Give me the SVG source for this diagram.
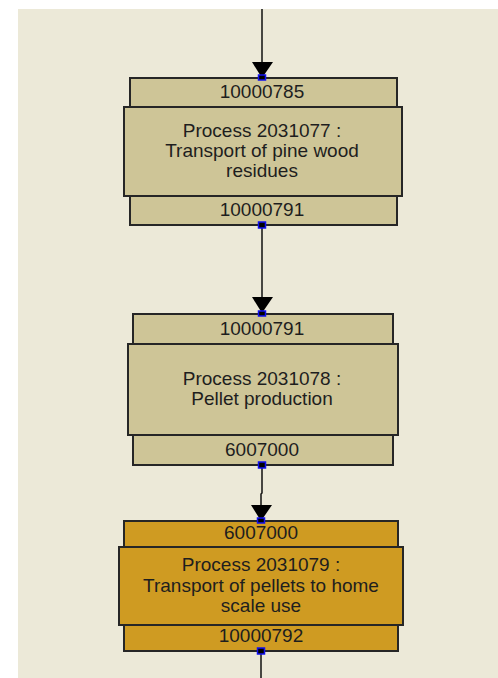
<svg xmlns="http://www.w3.org/2000/svg" width="498" height="678" viewBox="0 0 498 678">
<defs>
<style>
.bg{fill:#ECE9D8}
.n rect{stroke:#262626;stroke-width:2}
.khaki rect{fill:#CEC597}
.gold rect{fill:#CF9B22}
text{font-family:"Liberation Sans",Arial,sans-serif;font-size:19px;fill:#1E1E1E;text-anchor:middle}
.c line,.c polyline{stroke:#111;stroke-width:1.5;fill:none}
.arr{fill:#000}
.n rect.port{fill:#000;stroke:#1010F0;stroke-width:1.5}
</style>
</defs>
<rect x="0" y="0" width="498" height="678" fill="#fff"/>
<rect class="bg" x="18" y="9" width="480" height="669"/>

<g id="connectors" class="c">
<line x1="262" y1="9" x2="262" y2="72"/>
<polygon class="arr" points="252,62 273,62 262,78"/>
<line x1="262" y1="225" x2="262" y2="306"/>
<polygon class="arr" points="252,297 273,297 262,313"/>
<polyline points="262,465 262,493 261,494 261,512"/>
<polygon class="arr" points="251,505 272,505 261,521"/>
<line x1="261" y1="651" x2="261" y2="678"/>
</g>

<g id="node1" class="n khaki">
<rect x="130" y="78" width="267" height="29"/>
<rect x="130" y="196" width="267" height="29"/>
<rect x="124" y="107" width="278" height="89"/>
<text x="262" y="98">10000785</text>
<text x="262" y="137">Process 2031077 :</text>
<text x="262" y="157">Transport of pine wood</text>
<text x="262" y="177">residues</text>
<text x="262" y="216">10000791</text>
<rect class="port" x="258.5" y="75" width="7" height="5"/>
<rect class="port" x="258.5" y="222" width="7" height="6"/>
</g>

<g id="node2" class="n khaki">
<rect x="133" y="314" width="260" height="30"/>
<rect x="133" y="435" width="260" height="30"/>
<rect x="128" y="344" width="270" height="91"/>
<text x="262" y="335">10000791</text>
<text x="262" y="385">Process 2031078 :</text>
<text x="262" y="405">Pellet production</text>
<text x="262" y="456">6007000</text>
<rect class="port" x="258.5" y="311" width="7" height="5"/>
<rect class="port" x="258.5" y="462" width="7" height="6"/>
</g>

<g id="node3" class="n gold">
<rect x="124" y="521" width="274" height="26"/>
<rect x="124" y="625" width="274" height="26"/>
<rect x="119" y="547" width="284" height="78"/>
<text x="261" y="539">6007000</text>
<text x="261" y="571">Process 2031079 :</text>
<text x="261" y="592">Transport of pellets to home</text>
<text x="261" y="612">scale use</text>
<text x="261" y="642">10000792</text>
<rect class="port" x="257.5" y="518" width="7" height="5"/>
<rect class="port" x="257.5" y="648" width="7" height="6"/>
</g>
</svg>
